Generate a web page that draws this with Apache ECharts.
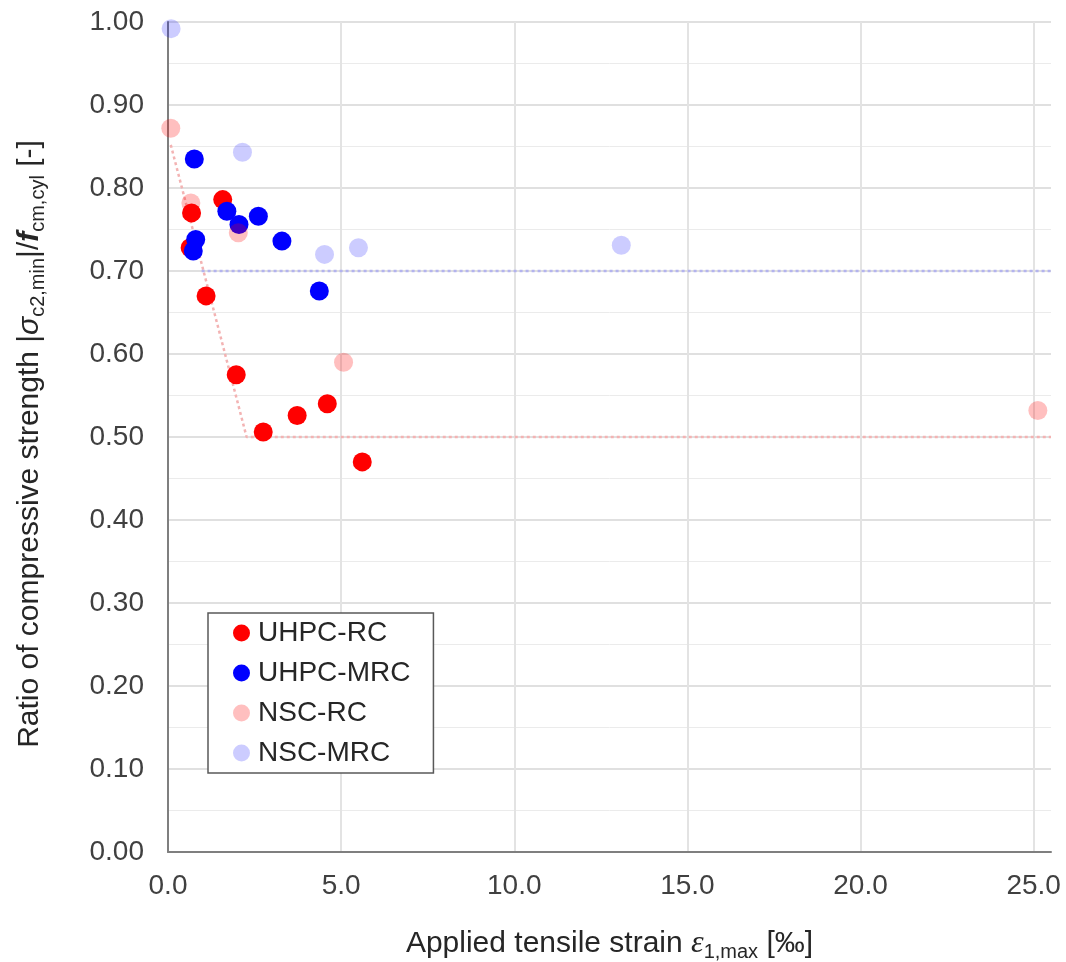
<!DOCTYPE html>
<html><head><meta charset="utf-8">
<script src="https://cdn.jsdelivr.net/npm/echarts@6/dist/echarts.min.js"></script>
<style>html,body{margin:0;padding:0;background:#fff}#c{width:1066px;height:962px}</style>
</head><body><div id="c"></div>
<script>
const seriesNames = ['UHPC-RC', 'UHPC-MRC', 'NSC-RC', 'NSC-MRC'];
const uhpcRC = [[1.58,0.786],[0.68,0.770],[0.64,0.728],[1.10,0.670],[1.97,0.575],[2.75,0.506],[3.73,0.526],[4.60,0.540],[5.61,0.470]];
const uhpcMRC = [[0.76,0.835],[1.70,0.772],[2.05,0.756],[2.61,0.766],[3.29,0.736],[0.80,0.738],[0.73,0.724],[4.37,0.676]];
const nscRC = [[0.08,0.872],[0.66,0.782],[2.03,0.746],[5.07,0.590],[25.12,0.532]];
const nscMRC = [[0.09,0.992],[2.15,0.843],[4.52,0.720],[5.50,0.728],[13.09,0.731]];
const rcTrend = [[0.08,0.852],[2.27,0.50],[25.5,0.50]];
const mrcTrend = [[0.97,0.70],[25.5,0.70]];
const xTickLabels = ['0.0','5.0','10.0','15.0','20.0','25.0'];
const yTickLabels = ['0.00','0.10','0.20','0.30','0.40','0.50','0.60','0.70','0.80','0.90','1.00'];

const FONT = 'Liberation Sans';
const chart = echarts.init(document.getElementById('c'), null, {renderer: 'canvas'});
const scatter = (name, data, color) => ({
  name, type: 'scatter', data, symbol: 'circle', symbolSize: 19, clip: false,
  itemStyle: {color, opacity: 1}, emphasis: {disabled: true}
});
const trend = (data, color) => ({
  type: 'line', data, symbol: 'none', silent: true, z: 1,
  lineStyle: {color, width: 2.5, type: [3, 3]}
});
chart.setOption({
  animation: false,
  backgroundColor: '#fff',
  textStyle: {fontFamily: FONT},
  grid: {left: 168, right: 15, top: 22, bottom: 110, containLabel: false, outerBoundsMode: 'none'},
  legend: {
    orient: 'vertical', left: 208, top: 613,
    data: seriesNames, icon: 'circle', itemWidth: 17, itemHeight: 17, itemGap: 10,
    padding: [5, 23, 5, 25], borderColor: '#595959', borderWidth: 1.5, backgroundColor: '#fff',
    textStyle: {fontFamily: FONT, fontSize: 28, lineHeight: 30, color: '#262626', padding: [0, 0, 0, 3]}
  },
  xAxis: {
    type: 'value', min: 0, max: 25.5, interval: 5,
    axisLine: {show: true, lineStyle: {color: '#7f7f7f', width: 2}},
    axisTick: {show: false},
    axisLabel: {
      fontFamily: FONT, fontSize: 28, color: '#404040', margin: 20, showMaxLabel: false,
      formatter: v => { const i = Math.round(v / 5); return Math.abs(v - i * 5) < 1e-6 ? xTickLabels[i] : ''; }
    },
    splitLine: {show: true, showMaxLine: false, lineStyle: {color: '#e3e3e3', width: 2}},
    name: '{n|Applied tensile strain }{e|ε}{s|1,max}{n| [‰]}',
    nameLocation: 'middle', nameGap: 74,
    nameTextStyle: {
      rich: {
        n: {fontFamily: FONT, fontSize: 30, color: '#262626', lineHeight: 36},
        e: {fontFamily: 'Liberation Serif', fontStyle: 'italic', fontSize: 32, color: '#262626', lineHeight: 36},
        s: {fontFamily: FONT, fontSize: 20, color: '#262626', lineHeight: 20, verticalAlign: 'bottom'}
      }
    }
  },
  yAxis: {
    type: 'value', min: 0, max: 1, interval: 0.1,
    axisLine: {show: true, lineStyle: {color: '#7f7f7f', width: 2}},
    axisTick: {show: false},
    axisLabel: {
      fontFamily: FONT, fontSize: 28, color: '#404040', margin: 24,
      formatter: v => yTickLabels[Math.round(v * 10)]
    },
    splitLine: {show: true, lineStyle: {color: '#e0e0e0', width: 2}},
    minorTick: {show: false, splitNumber: 2},
    minorSplitLine: {show: true, lineStyle: {color: '#ebebeb', width: 1}},
    name: '{n|Ratio of compressive strength |}{i|σ}{s|c2,min}{n||/}{f|f}{s|cm,cyl}{n| [-]}',
    nameLocation: 'middle', nameGap: 120, nameRotate: 90,
    nameTextStyle: {
      padding: [0, 14, 0, 0],
      rich: {
        n: {fontFamily: FONT, fontSize: 30, color: '#262626', lineHeight: 36},
        i: {fontFamily: FONT, fontStyle: 'italic', fontSize: 30, color: '#262626', lineHeight: 36},
        f: {fontFamily: FONT, fontStyle: 'italic', fontWeight: 'bold', fontSize: 30, color: '#262626', lineHeight: 36},
        s: {fontFamily: FONT, fontSize: 20, color: '#262626', lineHeight: 20, verticalAlign: 'bottom'}
      }
    }
  },
  series: [
    trend(rcTrend, '#f3b3b3'),
    trend(mrcTrend, '#b3b3ee'),
    scatter(seriesNames[0], uhpcRC, '#ff0000'),
    scatter(seriesNames[1], uhpcMRC, '#0000ff'),
    scatter(seriesNames[2], nscRC, 'rgba(255,0,0,0.25)'),
    scatter(seriesNames[3], nscMRC, 'rgba(0,0,255,0.2)')
  ]
});
</script></body></html>
